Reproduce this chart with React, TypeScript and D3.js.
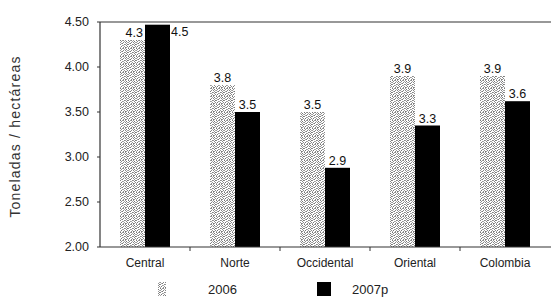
import React from "react";
import * as d3 from "d3";

const categories = ["Central", "Norte", "Occidental", "Oriental", "Colombia"];
const values2006 = [4.3, 3.8, 3.5, 3.9, 3.9];
const values2007 = [4.47, 3.5, 2.88, 3.35, 3.62];
const labels2006 = ["4.3", "3.8", "3.5", "3.9", "3.9"];
const labels2007 = ["4.5", "3.5", "2.9", "3.3", "3.6"];
const yTicks = [2.0, 2.5, 3.0, 3.5, 4.0, 4.5];
const seriesNames = ["2006", "2007p"];

const W = 551, H = 302;
const m = { left: 100, right: 1, top: 22, bottom: 55 };

const dotCells: [number, number, string][] = [
  [0, 0, "#777"], [2, 0, "#999"], [3, 0, "#888"], [5, 0, "#999"],
  [1, 1, "#888"], [4, 1, "#aaa"], [6, 1, "#777"],
  [0, 2, "#999"], [3, 2, "#888"], [5, 2, "#888"], [7, 2, "#aaa"],
  [1, 3, "#aaa"], [2, 3, "#777"], [6, 3, "#999"],
  [0, 4, "#888"], [4, 4, "#888"], [5, 4, "#999"], [7, 4, "#777"],
  [2, 5, "#999"], [3, 5, "#aaa"], [6, 5, "#888"],
  [1, 6, "#777"], [4, 6, "#999"], [7, 6, "#888"],
  [0, 7, "#aaa"], [3, 7, "#888"], [5, 7, "#777"], [6, 7, "#999"],
];

export default function App() {
  const x = d3.scaleBand<string>().domain(categories).range([m.left, W - m.right]).paddingInner(0).paddingOuter(0);
  const y = d3.scaleLinear().domain([2, 4.5]).range([H - m.bottom, m.top]);
  const bw = 25;
  const font = "'Liberation Sans', Arial, sans-serif";
  const y0 = y(2);
  return (
    <svg width={W} height={H} style={{ position: "absolute", left: 0, top: 0, background: "#fff" }} fontFamily={font}>
      <defs>
        <pattern id="dots" width="8" height="8" patternUnits="userSpaceOnUse">
          <rect width="8" height="8" fill="#fff" />
          {dotCells.map(([px, py, c], k) => (
            <rect key={k} x={px} y={py} width={1} height={1} fill={c} />
          ))}
        </pattern>
      </defs>
      <line x1={m.left} x2={W} y1={m.top} y2={m.top} stroke="#333" strokeWidth={1.2} />
      <line x1={m.left} x2={m.left} y1={m.top} y2={y0} stroke="#333" strokeWidth={1.2} />
      {yTicks.map((t) => (
        <g key={t}>
          <line x1={m.left - 3} x2={m.left} y1={y(t)} y2={y(t)} stroke="#333" />
          <text x={m.left - 11} y={y(t)} dy="0.35em" textAnchor="end" fontSize={12.5} fill="#222">
            {t.toFixed(2)}
          </text>
        </g>
      ))}
      <text transform={`translate(20,${(m.top + y0) / 2 + 2}) rotate(-90)`} textAnchor="middle" fontSize={14} letterSpacing={1.2} fill="#333">
        Toneladas / hectáreas
      </text>
      {categories.map((c, i) => {
        const cx = (x(c) as number) + x.bandwidth() / 2;
        const a = values2006[i], b = values2007[i];
        const bTop = y(b);
        const blackLabelRight = b >= 4.4;
        return (
          <g key={c}>
            <rect x={cx - bw} y={y(a)} width={bw} height={y0 - y(a)} fill="url(#dots)" />
            <rect x={cx} y={bTop} width={bw} height={y0 - bTop} fill="#000" />
            <text x={blackLabelRight ? cx - 2 : cx - bw / 2} y={y(a) - 3} textAnchor={blackLabelRight ? "end" : "middle"} fontSize={12.5} fill="#111">
              {labels2006[i]}
            </text>
            <text x={blackLabelRight ? cx + bw + 1 : cx + bw / 2} y={blackLabelRight ? bTop + 11 : bTop - 3} textAnchor={blackLabelRight ? "start" : "middle"} fontSize={12.5} fill="#111">
              {labels2007[i]}
            </text>
            <text x={cx} y={y0 + 20} textAnchor="middle" fontSize={12} fill="#222">{c}</text>
          </g>
        );
      })}
      {categories.slice(1).map((c) => (
        <line key={c} x1={x(c) as number} x2={x(c) as number} y1={y0} y2={y0 + 4} stroke="#333" />
      ))}
      <line x1={m.left} x2={W} y1={y0} y2={y0} stroke="#333" strokeWidth={1.2} />
      <rect x={158} y={282} width={8} height={14} fill="url(#dots)" />
      <text x={208} y={294} fontSize={13} fill="#222">{seriesNames[0]}</text>
      <rect x={317} y={282} width={14} height={14} fill="#000" />
      <text x={352} y={294} fontSize={13} fill="#222">{seriesNames[1]}</text>
    </svg>
  );
}
